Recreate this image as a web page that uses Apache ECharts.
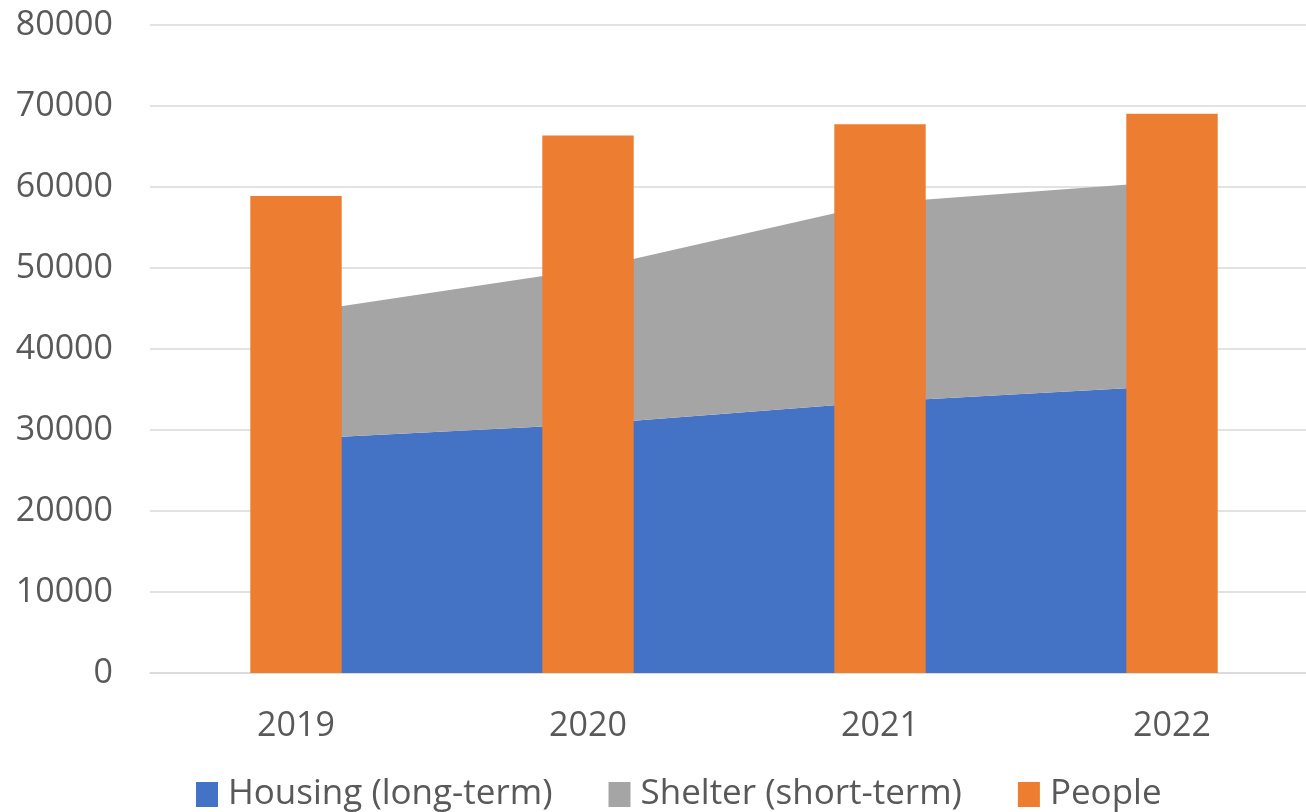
<!DOCTYPE html>
<html>
<head>
<meta charset="utf-8">
<script src="https://cdn.jsdelivr.net/npm/echarts@6/dist/echarts.min.js"></script>
<style>
html,body{margin:0;padding:0;background:#fff;overflow:hidden;width:1306px;height:812px;}
#chart{width:1320px;height:812px;}
</style>
</head>
<body>
<div id="chart"></div>
<script>
const categories = ['2019', '2020', '2021', '2022'];
const housing = [28900, 30700, 33500, 35450];
const shelter = [15550, 19150, 24530, 25250];
const people = [58900, 66370, 67740, 69050];
const yTicks = { min: 0, max: 80000, interval: 10000 };

const FONT = 'Open Sans';
const TXT = '#595959';

const chart = echarts.init(document.getElementById('chart'));
chart.setOption({
  animation: false,
  textStyle: { fontFamily: FONT },
  grid: { left: 150, top: 25, width: 1168, bottom: 139, containLabel: false },
  legend: {
    left: 196, top: 777, padding: 0,
    itemWidth: 22, itemHeight: 25, itemGap: 56,
    icon: 'rect',
    textStyle: { fontSize: 35, color: TXT, fontFamily: FONT, padding: [0, 0, 0, 5] },
    data: ['Housing (long-term)', 'Shelter (short-term)', 'People']
  },
  xAxis: {
    type: 'category',
    data: categories,
    boundaryGap: true,
    axisLine: { show: true, lineStyle: { color: '#D9D9D9', width: 1.5 } },
    axisTick: { show: false },
    axisLabel: { color: TXT, fontSize: 34, margin: 36, fontFamily: FONT }
  },
  yAxis: {
    type: 'value',
    min: yTicks.min, max: yTicks.max, interval: yTicks.interval,
    axisLine: { show: false },
    axisTick: { show: false },
    splitLine: { lineStyle: { color: '#D9D9D9', width: 1.5 } },
    axisLabel: { color: TXT, fontSize: 34, margin: 37, fontFamily: FONT,
      formatter: function (v) { return String(v); } }
  },
  series: [
    {
      name: 'Housing (long-term)', type: 'line', stack: 'a', data: housing,
      symbol: 'none', lineStyle: { width: 0 }, z: 1,
      itemStyle: { color: '#4472C4' },
      areaStyle: { color: '#4472C4', opacity: 1 }
    },
    {
      name: 'Shelter (short-term)', type: 'line', stack: 'a', data: shelter,
      symbol: 'none', lineStyle: { width: 0 }, z: 1,
      itemStyle: { color: '#A5A5A5' },
      areaStyle: { color: '#A5A5A5', opacity: 1 }
    },
    {
      name: 'People', type: 'bar', data: people, barWidth: '31.3%', z: 3,
      itemStyle: { color: '#ED7D31' }
    }
  ]
});
</script>
</body>
</html>
